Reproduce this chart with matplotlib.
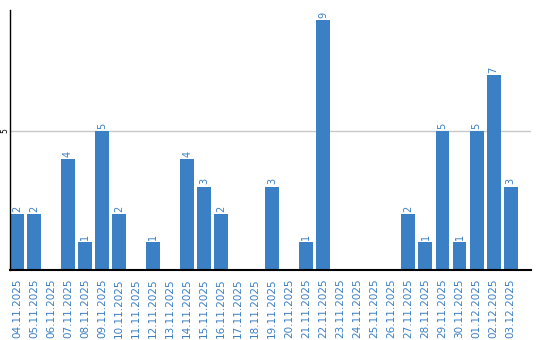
import matplotlib
matplotlib.use("Agg")
import matplotlib.pyplot as plt

# daily counts
dates = [
    "04.11.2025", "05.11.2025", "06.11.2025", "07.11.2025", "08.11.2025",
    "09.11.2025", "10.11.2025", "11.11.2025", "12.11.2025", "13.11.2025",
    "14.11.2025", "15.11.2025", "16.11.2025", "17.11.2025", "18.11.2025",
    "19.11.2025", "20.11.2025", "21.11.2025", "22.11.2025", "23.11.2025",
    "24.11.2025", "25.11.2025", "26.11.2025", "27.11.2025", "28.11.2025",
    "29.11.2025", "30.11.2025", "01.12.2025", "02.12.2025", "03.12.2025",
]
counts = [2, 2, 0, 4, 1, 5, 2, 0, 1, 0,
          4, 3, 2, 0, 0, 3, 0, 1, 9, 0,
          0, 0, 0, 2, 1, 5, 1, 5, 7, 3]
y_ticks = [5]

blue = "#3b7fc4"

fig = plt.figure(figsize=(5.4, 3.4), dpi=100)
ax = fig.add_axes([10 / 540, 70 / 340, 521 / 540, 260 / 340])

x = list(range(len(dates)))
ax.bar(x, counts, width=0.82, color=blue, zorder=2)

for xi, v in zip(x, counts):
    if v > 0:
        ax.annotate(str(v), (xi, v), xytext=(0, 1.5), textcoords="offset points",
                    rotation=90, ha="center", va="bottom", color=blue, fontsize=7)

ax.set_xlim(-0.41, 30.2)
ax.set_ylim(0, 9.35)
ax.set_xticks(x)
ax.set_xticklabels(dates, rotation=90, color=blue, fontsize=7.5)
ax.set_yticks(y_ticks)
ax.set_yticklabels([str(t) for t in y_ticks], rotation=90, va="center", fontsize=5.5)
ax.tick_params(axis="both", length=0)
ax.tick_params(axis="x", pad=6)
ax.tick_params(axis="y", pad=0.5)
ax.yaxis.grid(True, color="#c8c8c8", linewidth=1, zorder=0)

for side in ("top", "right"):
    ax.spines[side].set_visible(False)
ax.spines["left"].set_linewidth(1)
ax.spines["bottom"].set_linewidth(1.5)

fig.savefig("out.png", dpi=100)
